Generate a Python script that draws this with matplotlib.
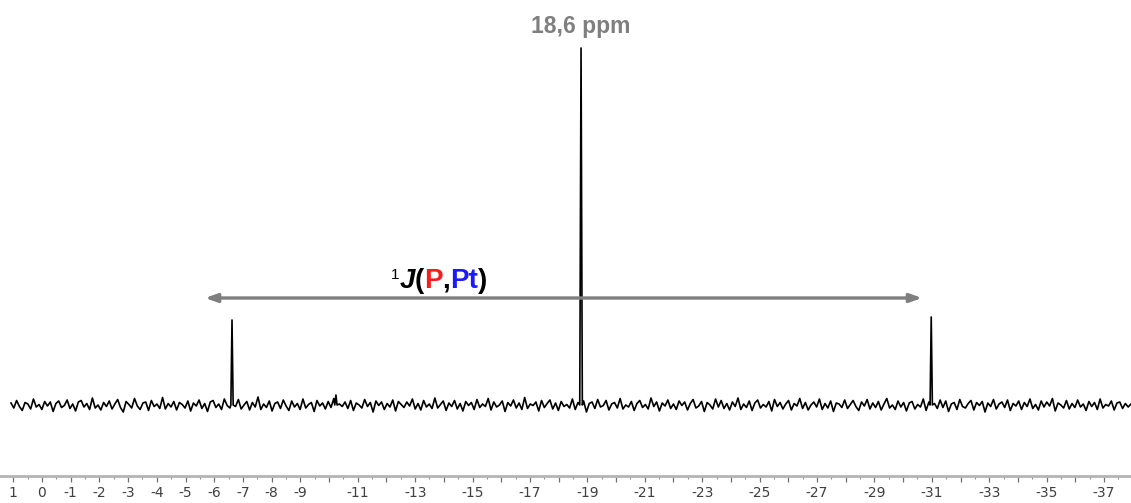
import numpy as np
import matplotlib
matplotlib.use("Agg")
import matplotlib.pyplot as plt

# chemical shift range covered by the recorded trace (ppm)
spec_start = 1.08
spec_end = -37.94

# signals: position (ppm), intensity, base half width (ppm)
peak_ppm = [-6.62, -10.24, -18.78, -30.98]
peak_height = [17.0, 2.0, 71.4, 17.6]
peak_halfwidth = [0.04, 0.04, 0.045, 0.04]

# baseline noise left to right (same intensity units)
noise = [
    0.4, -0.6, 0.9, -0.3, -1.1, 0.5, 0.2, -0.8, 1.2, -0.4, 0.1, -0.9, 0.7, -0.2, 0.6, -1.3, 0.3, 0.8, -0.5, -0.1,
    1.0, -0.7, 0.2, -1.2, 0.6, 0.9, -0.4, 0.3, -0.9, 1.4, -0.6, 0.0, -1.0, 0.5, -0.3, 0.8, -0.8, 0.2, 1.1, -0.5,
    -1.4, 0.7, 0.1, -0.6, 1.3, -0.2, -0.9, 0.4, 0.6, -1.1, 0.9, -0.3, 0.2, -0.7, 1.5, -0.8, 0.3, -0.4, 0.7, -1.0,
    0.5, 0.1, -0.6, 0.8, -1.2, 0.4, -0.2, 1.0, -0.7, 0.3, -1.3, 0.6, 0.9, -0.5, 0.2, -0.9, 1.2, -0.1, -0.6, 0.4,
    -0.3, 1.1, -0.8, 0.0, 0.7, -1.0, 0.5, -0.4, 1.6, -0.9, 0.2, -0.5, 0.8, -1.2, 0.3, 0.6, -0.7, 1.0, -0.2, -1.1,
    0.8, -0.4, 0.3, -0.9, 1.2, -0.6, 0.1, 0.5, -1.3, 0.9, -0.2, 0.4, -0.8, 0.7, -0.5, 1.3, -1.0, 0.2, -0.3, 0.6,
    -0.7, 0.9, -1.1, 0.4, 0.0, -0.6, 1.1, -0.3, 0.5, -1.4, 0.8, -0.1, 0.6, -0.9, 0.3, -0.4, 1.0, -1.2, 0.7, 0.1,
    -0.5, 0.6, -0.2, 1.2, -0.8, 0.3, -1.0, 0.9, -0.4, 0.2, -0.7, 1.4, -0.6, 0.1, 0.8, -1.1, 0.4, -0.3, 0.9, -0.8,
    0.3, -1.2, 0.7, -0.1, 0.5, -0.9, 1.1, -0.5, 0.2, -0.3, 1.3, -1.0, 0.6, -0.4, 0.0, 0.8, -1.3, 0.5, -0.2, 1.0,
    -0.6, 0.4, -0.9, 1.5, -0.7, 0.2, -0.1, 0.6, -1.2, 0.9, -0.5, 0.3, 1.0, -0.8, 0.4, -1.1, 0.7, -0.3, 0.1, -0.6,
    1.2, -0.9, 0.5, -0.2, 0.8, -1.4, 0.3, 0.6, -0.7, 1.1, -0.4, -0.1, 0.9, -1.0, 0.2, 0.5, -0.6, 1.3, -0.8, 0.0,
    -0.4, 0.7, -1.1, 0.3, 0.9, -0.5, 0.1, -0.8, 1.4, -0.3, 0.6, -1.2, 0.4, -0.2, 1.0, -0.7, 0.2, -0.9, 0.8, -0.1,
    0.6, -1.0, 0.3, 1.1, -0.6, -0.2, 0.7, -1.3, 0.5, 0.0, -0.8, 1.2, -0.4, 0.9, -0.7, 0.3, -1.0, 0.6, -0.3, 1.4,
    -0.9, 0.2, -0.5, 0.8, -1.1, 0.4, 1.0, -0.6, 0.1, -0.4, 0.7, -1.2, 1.1, -0.3, 0.5, -0.8, 0.2, 0.9, -1.0, 0.3,
    -0.2, 1.3, -0.7, 0.5, -1.0, 0.0, 0.6, -0.4, 1.2, -0.9, 0.3, -0.6, 0.8, -1.3, 0.4, 0.2, -0.5, 1.0, -0.7, 0.1,
    0.9, -0.3, -1.1, 0.6, -0.2, 1.1, -0.8, 0.4, -0.5, 0.7, -1.0, 0.2, 1.3, -0.6, 0.0, -0.9, 0.8, -0.4, 0.5, -1.2,
    0.4, 0.7, -0.8, 0.1, -0.4, 1.2, -1.1, 0.6, -0.2, 0.3, -0.7, 1.0, -0.5, 0.8, -1.3, 0.2, 0.5, -0.9, 1.1, -0.3,
    -0.6, 0.3, 0.9, -1.0, 0.5, -0.1, 0.7, -1.4, 0.4, -0.3, 1.1, -0.8, 0.2, 0.6, -0.5, 1.0, -1.1, 0.3, -0.2, 0.8,
    -0.9, 0.5, -0.3, 1.2, -0.7, 0.1, -1.0, 0.8, -0.4, 0.6, -0.2, 1.3, -1.2, 0.4, 0.0, -0.6, 0.9, -0.8, 0.3, -0.5,
    1.0, -0.4, 0.2, -1.1, 0.7, -0.3, 0.5, -0.9, 1.2, -0.6, 0.1, -0.2, 0.8, -1.0, 0.4, 0.6, -0.7, 0.3, -0.4, 0.2,
]

# axis ticks and their labels (labels only where the original prints them)
tick_ppm = list(range(1, -38, -1))
tick_labels = [str(v) if (v >= -9 or v % 2 != 0) else "" for v in tick_ppm]

shift_label = "18,6 ppm"
coupling_from = -5.68
coupling_to = -30.66

# build trace: noise on a regular grid, signals inserted as narrow lines
x = np.linspace(spec_start, spec_end, len(noise))
y = np.array(noise, dtype=float)
keep = np.ones(len(x), dtype=bool)
for p, w in zip(peak_ppm, peak_halfwidth):
    keep &= np.abs(x - p) > w
px = list(x[keep])
py = list(y[keep])
for p, h, w in zip(peak_ppm, peak_height, peak_halfwidth):
    px += [p + w, p, p - w]
    py += [0.0, h, 0.0]
order = np.argsort(px)[::-1]
px = np.array(px)[order]
py = np.array(py)[order]

fig = plt.figure(figsize=(11.31, 5.03), dpi=100)
ax = fig.add_axes([0, 27 / 503, 1, 476 / 503])

ax.plot(px, py, color="black", linewidth=1.2)

ax.set_xlim(1.463, -37.94)
ax.set_ylim(-14.2, 81.0)

# only the bottom axis line is shown
for side in ["top", "left", "right"]:
    ax.spines[side].set_visible(False)
ax.spines["bottom"].set_color("#b4b4b4")
ax.spines["bottom"].set_linewidth(2.0)
ax.set_yticks([])
ax.set_xticks(tick_ppm)
ax.set_xticklabels(tick_labels)
ax.set_xticks(np.arange(0.5, -38, -1.0), minor=True)
ax.tick_params(axis="x", which="major", direction="out", length=4.5, width=0.9,
               color="#707070", pad=3, labelsize=10, labelcolor="#404040")
ax.tick_params(axis="x", which="minor", direction="out", length=2.5, width=0.8,
               color="#909090")

# label of the central signal
ax.text(peak_ppm[2], 75.6, shift_label, ha="center", va="center",
        fontsize=16.5, fontweight="bold", color="#7f7f7f", family="Liberation Sans")

# coupling arrow between the platinum satellites
ax.annotate("", xy=(coupling_to, 21.4), xytext=(coupling_from, 21.4),
            arrowprops=dict(arrowstyle="<|-|>,head_length=0.7,head_width=0.25",
                            color="#7f7f7f", linewidth=2.4, shrinkA=0, shrinkB=0))

# 1J(P,Pt) label built from coloured pieces
fs = 20
tj = ax.text(-12.45, 23.4, "J", fontsize=fs, fontweight="bold", style="italic",
             family="Liberation Sans", ha="left", va="baseline", color="black")
ax.annotate("1", xy=(0, 1), xycoords=tj, xytext=(0, 0), textcoords="offset points",
            ha="right", va="top", fontsize=11, family="Liberation Sans", color="black")
prev = tj
for s, c in [("(", "black"), ("P", "#ff1a1a"), (",", "black"), ("Pt", "#1a1aff"), (")", "black")]:
    prev = ax.annotate(s, xy=(1, 0), xycoords=prev, ha="left", va="bottom",
                       fontsize=fs, fontweight="bold", family="Liberation Sans", color=c)

fig.savefig("out.png", dpi=100)
